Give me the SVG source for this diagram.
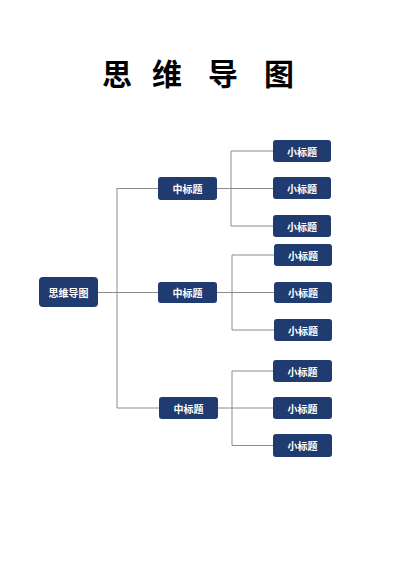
<svg xmlns="http://www.w3.org/2000/svg" width="400" height="566" viewBox="0 0 400 566">
<style>
.node rect{fill:#1f3b70;}
.node text{fill:#ffffff;font-family:"Noto Sans CJK SC","Noto Sans",sans-serif;font-size:10px;font-weight:bold;text-anchor:middle;dominant-baseline:central;}
.conn path{fill:none;stroke:#8c8c8c;stroke-width:1;}
.title{font-family:"Noto Sans CJK SC",sans-serif;font-size:30px;font-weight:bold;fill:#000;}
</style>
<rect width="400" height="566" fill="#ffffff"/>
<text class="title" y="85"><tspan x="102">思 </tspan><tspan x="152">维 </tspan><tspan x="208">导 </tspan><tspan x="264">图</tspan></text>
<g id="connectors" class="conn">
<path d="M98 292.5H158"/>
<path d="M117 188V408"/>
<path d="M117 188.5H158"/>
<path d="M117 408H159"/>
<path d="M217 188.5H273"/>
<path d="M231 151V226"/>
<path d="M231 151H273"/>
<path d="M231 226H273"/>
<path d="M217 292.5H274"/>
<path d="M232 255V330"/>
<path d="M232 255H274"/>
<path d="M232 330H274"/>
<path d="M218 408H273"/>
<path d="M232 371V445.5"/>
<path d="M232 371H273"/>
<path d="M232 445.5H273"/>
</g>
<g id="root" class="node"><rect x="39" y="277" width="59" height="30" rx="4"/><text x="68.5" y="292">思维导图</text></g>
<g id="mid1" class="node"><rect x="158" y="177" width="59" height="23" rx="3"/><text x="187.5" y="188.5">中标题</text></g>
<g id="mid2" class="node"><rect x="158" y="282" width="59" height="21" rx="3"/><text x="187.5" y="292.5">中标题</text></g>
<g id="mid3" class="node"><rect x="159" y="397" width="59" height="22" rx="3"/><text x="188.5" y="408">中标题</text></g>
<g id="s1" class="node"><rect x="273" y="140" width="58" height="22" rx="3"/><text x="302" y="151">小标题</text></g>
<g id="s2" class="node"><rect x="273" y="177" width="58" height="22" rx="3"/><text x="302" y="188">小标题</text></g>
<g id="s3" class="node"><rect x="273" y="215" width="58" height="22" rx="3"/><text x="302" y="226">小标题</text></g>
<g id="s4" class="node"><rect x="274" y="244" width="58" height="22" rx="3"/><text x="303" y="255">小标题</text></g>
<g id="s5" class="node"><rect x="274" y="282" width="58" height="21" rx="3"/><text x="303" y="292.5">小标题</text></g>
<g id="s6" class="node"><rect x="274" y="319" width="58" height="22" rx="3"/><text x="303" y="330">小标题</text></g>
<g id="s7" class="node"><rect x="273" y="360" width="59" height="22" rx="3"/><text x="302.5" y="371">小标题</text></g>
<g id="s8" class="node"><rect x="273" y="397" width="59" height="22" rx="3"/><text x="302.5" y="408">小标题</text></g>
<g id="s9" class="node"><rect x="273" y="434" width="59" height="23" rx="3"/><text x="302.5" y="445.5">小标题</text></g>
</svg>
